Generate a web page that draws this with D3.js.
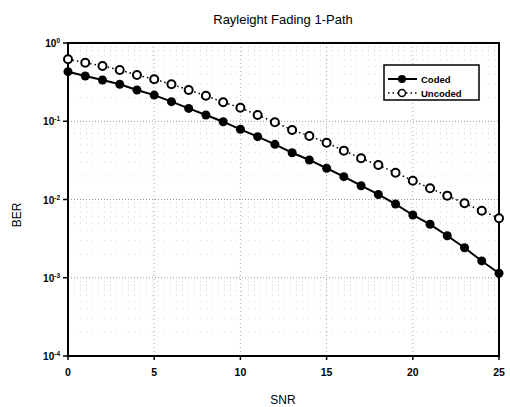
<!DOCTYPE html>
<html>
<head>
<meta charset="utf-8">
<script src="https://cdn.jsdelivr.net/npm/d3@7"></script>
<style>
  body { margin: 0; background: #fff; }
  text { font-family: Arial, "Liberation Sans", sans-serif; }
</style>
</head>
<body>
<div id="chart"></div>
<script>
// data
var snr = d3.range(0, 26);
var coded = [0.430, 0.379, 0.337, 0.297, 0.251, 0.216, 0.178, 0.146, 0.120, 0.0987,
             0.0789, 0.0635, 0.0507, 0.0396, 0.0320, 0.0251, 0.0196, 0.0150, 0.0116, 0.00875,
             0.00634, 0.00482, 0.00344, 0.00242, 0.00164, 0.00114];
var uncoded = [0.619, 0.560, 0.508, 0.452, 0.390, 0.344, 0.297, 0.251, 0.212, 0.175,
               0.149, 0.120, 0.0970, 0.0773, 0.0648, 0.0532, 0.0421, 0.0336, 0.0276, 0.0220,
               0.0174, 0.0139, 0.0112, 0.00894, 0.00718, 0.00575];
var xTicks = [0, 5, 10, 15, 20, 25];
var yExps = [0, -1, -2, -3, -4];

var width = 510, height = 407;
var svg = d3.select("#chart").append("svg")
    .attr("width", width).attr("height", height);

var x = d3.scaleLinear().domain([0, 25]).range([68, 499]);
var y = d3.scaleLog().domain([1e-4, 1]).range([356, 43]);

// grid (dotted, faint)
var minor = [];
yExps.slice(0, 4).forEach(function (e) {
    for (var k = 2; k <= 9; k++) minor.push(k * Math.pow(10, e - 1));
});
svg.append("g").selectAll("line").data(minor).join("line")
    .attr("x1", x(0)).attr("x2", x(25))
    .attr("y1", d => y(d)).attr("y2", d => y(d))
    .attr("stroke", "#d4d4d4").attr("stroke-width", 1)
    .attr("stroke-dasharray", "1,5");
svg.append("g").selectAll("line").data(yExps.slice(1, 4)).join("line")
    .attr("x1", x(0)).attr("x2", x(25))
    .attr("y1", d => y(Math.pow(10, d))).attr("y2", d => y(Math.pow(10, d)))
    .attr("stroke", "#999").attr("stroke-width", 1)
    .attr("stroke-dasharray", "1,2");
svg.append("g").selectAll("line").data(xTicks.slice(1, 5)).join("line")
    .attr("x1", d => x(d)).attr("x2", d => x(d))
    .attr("y1", y(1)).attr("y2", y(1e-4))
    .attr("stroke", "#aaa").attr("stroke-width", 1)
    .attr("stroke-dasharray", "1,3");

// frame
svg.append("rect")
    .attr("x", x(0)).attr("y", y(1))
    .attr("width", x(25) - x(0)).attr("height", y(1e-4) - y(1))
    .attr("fill", "none").attr("stroke", "#000").attr("stroke-width", 2);

// y ticks + labels
var yt = svg.append("g");
yExps.forEach(function (e) {
    var yy = y(Math.pow(10, e));
    yt.append("line").attr("x1", x(0) - 5).attr("x2", x(0))
        .attr("y1", yy).attr("y2", yy).attr("stroke", "#000").attr("stroke-width", 1.5);
    var t = yt.append("text").attr("x", x(0) - 8).attr("y", yy + 4)
        .attr("text-anchor", "end").attr("font-size", 10).attr("font-weight", "bold");
    t.append("tspan").text("10");
    t.append("tspan").attr("dy", -4).attr("font-size", 6.5).text(e);
});

// x ticks + labels
var xt = svg.append("g");
xTicks.forEach(function (v) {
    xt.append("line").attr("x1", x(v)).attr("x2", x(v))
        .attr("y1", y(1e-4)).attr("y2", y(1e-4) + 4)
        .attr("stroke", "#000").attr("stroke-width", 1.5);
    xt.append("text").attr("x", x(v)).attr("y", y(1e-4) + 20)
        .attr("text-anchor", "middle").attr("font-size", 10.5).attr("font-weight", "bold")
        .text(v);
});

// titles
svg.append("text").attr("x", 283).attr("y", 24).attr("text-anchor", "middle")
    .attr("font-size", 13).text("Rayleight Fading 1-Path");
svg.append("text").attr("x", 283).attr("y", 404).attr("text-anchor", "middle")
    .attr("font-size", 12).text("SNR");
svg.append("text").attr("transform", "translate(21,215) rotate(-90)")
    .attr("text-anchor", "middle").attr("font-size", 12).text("BER");

// series
var line = d3.line().x(d => x(d[0])).y(d => y(d[1]));
var cData = snr.map((s, i) => [s, coded[i]]);
var uData = snr.map((s, i) => [s, uncoded[i]]);

svg.append("path").datum(uData).attr("d", line)
    .attr("fill", "none").attr("stroke", "#000").attr("stroke-width", 1.5)
    .attr("stroke-dasharray", "1.5,3");
svg.append("path").datum(cData).attr("d", line)
    .attr("fill", "none").attr("stroke", "#000").attr("stroke-width", 2);

svg.append("g").selectAll("circle").data(uData).join("circle")
    .attr("cx", d => x(d[0])).attr("cy", d => y(d[1])).attr("r", 4)
    .attr("fill", "#fff").attr("stroke", "#000").attr("stroke-width", 2);
svg.append("g").selectAll("circle").data(cData).join("circle")
    .attr("cx", d => x(d[0])).attr("cy", d => y(d[1])).attr("r", 4.5)
    .attr("fill", "#000");

// legend
var lg = svg.append("g").attr("transform", "translate(384,65)");
lg.append("rect").attr("width", 95).attr("height", 35)
    .attr("fill", "#fff").attr("stroke", "#000").attr("stroke-width", 1.5);
lg.append("line").attr("x1", 4).attr("x2", 33).attr("y1", 14).attr("y2", 14)
    .attr("stroke", "#000").attr("stroke-width", 2);
lg.append("circle").attr("cx", 18).attr("cy", 14).attr("r", 4).attr("fill", "#000");
lg.append("text").attr("x", 37).attr("y", 17.5).attr("font-size", 9.5).attr("font-weight", "bold").text("Coded");
lg.append("line").attr("x1", 4).attr("x2", 33).attr("y1", 28).attr("y2", 28)
    .attr("stroke", "#000").attr("stroke-width", 1.5).attr("stroke-dasharray", "1.5,3");
lg.append("circle").attr("cx", 18).attr("cy", 28).attr("r", 3.5)
    .attr("fill", "#fff").attr("stroke", "#000").attr("stroke-width", 1.5);
lg.append("text").attr("x", 37).attr("y", 31.5).attr("font-size", 9.5).attr("font-weight", "bold").text("Uncoded");
</script>
</body>
</html>
